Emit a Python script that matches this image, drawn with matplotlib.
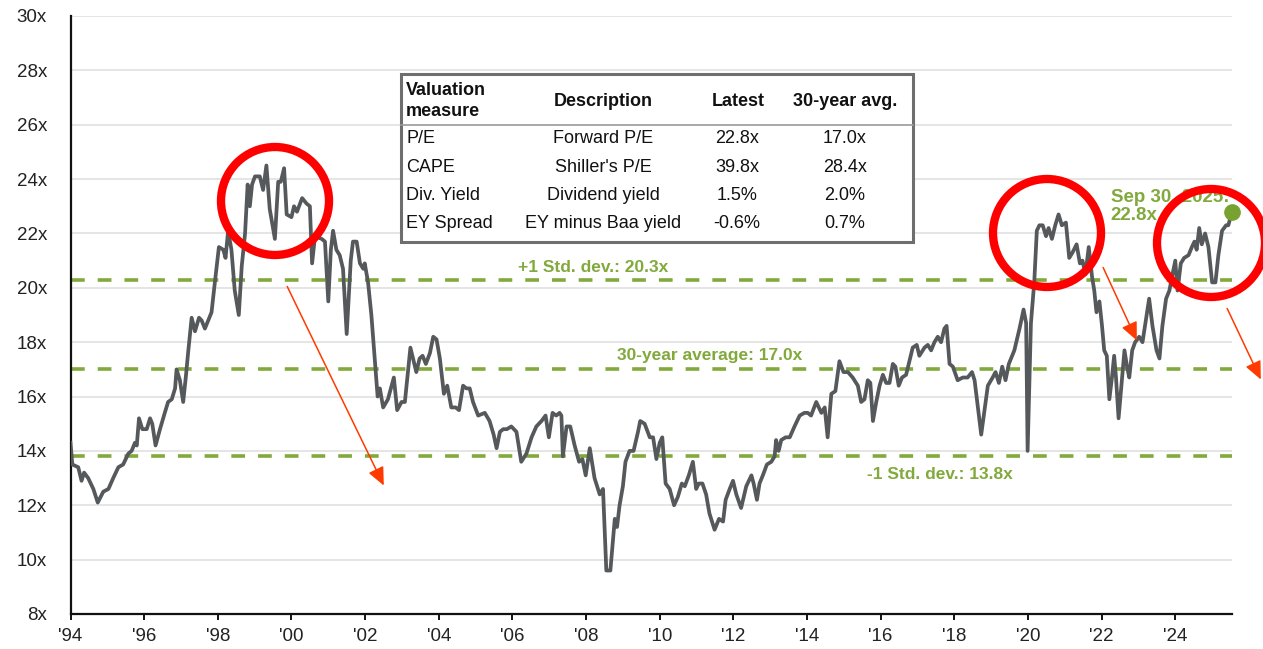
import matplotlib.pyplot as plt
from matplotlib.patches import Ellipse, Rectangle, FancyArrowPatch
from matplotlib.lines import Line2D

# S&P 500 forward P/E, decimal year positions
years = [
    1994.00, 1994.05, 1994.21, 1994.30, 1994.37, 1994.48, 1994.62, 1994.74, 1994.89, 1995.03,
    1995.16, 1995.30, 1995.43, 1995.57, 1995.66, 1995.75, 1995.80, 1995.86, 1995.95, 1996.07,
    1996.16, 1996.22, 1996.31, 1996.43, 1996.56, 1996.65, 1996.75, 1996.84, 1996.88, 1996.97,
    1997.06, 1997.13, 1997.20, 1997.29, 1997.38, 1997.49, 1997.56, 1997.65, 1997.74, 1997.83,
    1997.92, 1998.03, 1998.15, 1998.21, 1998.28, 1998.37, 1998.46, 1998.57, 1998.65, 1998.74,
    1998.81, 1998.87, 1998.93, 1999.01, 1999.14, 1999.23, 1999.32, 1999.41, 1999.55, 1999.64,
    1999.71, 1999.80, 1999.87, 2000.00, 2000.07, 2000.15, 2000.29, 2000.41, 2000.50, 2000.56,
    2000.64, 2000.82, 2000.91, 2001.00, 2001.07, 2001.13, 2001.22, 2001.31, 2001.40, 2001.50,
    2001.61, 2001.67, 2001.77, 2001.86, 2001.95, 2001.99, 2002.08, 2002.17, 2002.26, 2002.34,
    2002.40, 2002.49, 2002.62, 2002.78, 2002.87, 2002.99, 2003.08, 2003.23, 2003.30, 2003.39,
    2003.48, 2003.56, 2003.65, 2003.76, 2003.85, 2003.94, 2004.03, 2004.14, 2004.23, 2004.34,
    2004.46, 2004.55, 2004.66, 2004.75, 2004.84, 2004.93, 2005.07, 2005.25, 2005.38, 2005.49,
    2005.57, 2005.66, 2005.75, 2005.85, 2005.97, 2006.11, 2006.24, 2006.38, 2006.52, 2006.65,
    2006.79, 2006.90, 2006.99, 2007.09, 2007.19, 2007.28, 2007.33, 2007.37, 2007.47, 2007.57,
    2007.69, 2007.81, 2007.90, 2007.99, 2008.10, 2008.23, 2008.37, 2008.46, 2008.55, 2008.66,
    2008.78, 2008.84, 2008.91, 2009.00, 2009.07, 2009.18, 2009.29, 2009.41, 2009.47, 2009.59,
    2009.73, 2009.82, 2009.91, 2010.00, 2010.07, 2010.16, 2010.27, 2010.39, 2010.49, 2010.60,
    2010.68, 2010.79, 2010.90, 2010.99, 2011.06, 2011.16, 2011.26, 2011.35, 2011.49, 2011.61,
    2011.72, 2011.79, 2011.90, 2011.99, 2012.08, 2012.21, 2012.35, 2012.49, 2012.55, 2012.64,
    2012.71, 2012.80, 2012.91, 2013.03, 2013.12, 2013.16, 2013.23, 2013.30, 2013.42, 2013.53,
    2013.66, 2013.80, 2013.93, 2014.02, 2014.11, 2014.25, 2014.39, 2014.48, 2014.56, 2014.66,
    2014.77, 2014.88, 2014.99, 2015.11, 2015.24, 2015.38, 2015.47, 2015.56, 2015.65, 2015.72,
    2015.79, 2015.88, 2015.97, 2016.06, 2016.15, 2016.24, 2016.33, 2016.40, 2016.49, 2016.58,
    2016.69, 2016.78, 2016.87, 2016.98, 2017.05, 2017.19, 2017.28, 2017.37, 2017.46, 2017.55,
    2017.64, 2017.73, 2017.79, 2017.87, 2017.96, 2018.09, 2018.23, 2018.36, 2018.48, 2018.55,
    2018.64, 2018.73, 2018.82, 2018.91, 2019.04, 2019.12, 2019.21, 2019.30, 2019.39, 2019.48,
    2019.63, 2019.77, 2019.88, 2019.95, 2019.99, 2020.08, 2020.17, 2020.24, 2020.31, 2020.40,
    2020.49, 2020.56, 2020.65, 2020.74, 2020.83, 2020.92, 2021.03, 2021.12, 2021.21, 2021.32,
    2021.41, 2021.48, 2021.56, 2021.65, 2021.74, 2021.80, 2021.86, 2021.94, 2022.01, 2022.07,
    2022.14, 2022.21, 2022.28, 2022.34, 2022.39, 2022.46, 2022.53, 2022.62, 2022.69, 2022.75,
    2022.83, 2022.91, 2023.02, 2023.11, 2023.20, 2023.29, 2023.38, 2023.49, 2023.57, 2023.65,
    2023.75, 2023.84, 2023.91, 2024.00, 2024.06, 2024.15, 2024.24, 2024.36, 2024.45, 2024.52,
    2024.58, 2024.65, 2024.72, 2024.81, 2024.90, 2025.00, 2025.09, 2025.17, 2025.27, 2025.38,
    2025.44, 2025.54,
]
pe = [
    14.3, 13.5, 13.4, 12.9, 13.2, 13.0, 12.6, 12.1, 12.5, 12.6,
    13.0, 13.4, 13.5, 13.9, 14.0, 14.3, 14.2, 15.2, 14.8, 14.8,
    15.2, 15.0, 14.2, 14.8, 15.4, 15.8, 15.9, 16.3, 17.0, 16.6,
    15.8, 16.7, 17.7, 18.9, 18.4, 18.9, 18.8, 18.5, 18.8, 19.1,
    20.2, 21.5, 21.4, 21.1, 22.1, 21.4, 19.9, 19.0, 20.8, 22.0,
    23.8, 23.0, 23.8, 24.1, 24.1, 23.6, 24.5, 22.9, 21.8, 23.9,
    23.9, 24.4, 22.7, 22.6, 23.0, 22.8, 23.3, 23.1, 23.0, 20.9,
    21.9, 21.8, 21.7, 19.5, 21.4, 22.1, 21.4, 21.2, 20.7, 18.3,
    21.0, 21.7, 21.7, 20.9, 20.7, 20.9, 20.2, 19.0, 17.4, 16.0,
    16.3, 15.6, 15.9, 16.7, 15.5, 15.8, 15.8, 17.8, 17.4, 16.9,
    17.4, 17.5, 17.2, 17.6, 18.2, 18.1, 17.4, 16.1, 16.4, 15.6,
    15.6, 15.5, 16.4, 16.3, 16.3, 15.8, 15.3, 15.4, 15.1, 14.6,
    14.1, 14.7, 14.8, 14.8, 14.9, 14.7, 13.6, 13.9, 14.5, 14.9,
    15.1, 15.3, 14.5, 15.4, 15.3, 15.4, 15.3, 13.8, 14.9, 14.9,
    14.2, 13.6, 13.7, 13.1, 14.1, 13.0, 12.4, 12.6, 9.6, 9.6,
    11.5, 11.2, 12.0, 12.7, 13.6, 14.0, 14.0, 14.7, 15.1, 15.0,
    14.5, 14.5, 13.7, 14.3, 14.5, 12.8, 12.6, 12.0, 12.3, 12.8,
    12.7, 13.1, 13.6, 12.6, 12.8, 12.8, 12.4, 11.7, 11.1, 11.5,
    11.4, 12.2, 12.6, 12.9, 12.4, 11.9, 12.7, 13.1, 12.8, 12.2,
    12.8, 13.1, 13.5, 13.6, 13.8, 14.4, 14.0, 14.4, 14.5, 14.5,
    14.9, 15.3, 15.4, 15.4, 15.3, 15.8, 15.4, 15.6, 14.5, 16.1,
    16.2, 17.3, 16.9, 16.9, 16.7, 16.4, 15.8, 15.9, 16.6, 16.5,
    15.1, 15.8, 16.4, 16.8, 16.5, 16.5, 17.2, 17.1, 16.4, 16.7,
    16.8, 17.3, 17.8, 17.9, 17.5, 17.8, 17.9, 17.7, 18.0, 18.2,
    18.0, 18.5, 18.6, 17.2, 17.1, 16.6, 16.7, 16.7, 16.9, 16.6,
    15.6, 14.6, 15.5, 16.4, 16.7, 16.9, 16.5, 17.1, 16.6, 17.2,
    17.7, 18.5, 19.2, 18.7, 14.0, 18.7, 20.2, 22.1, 22.3, 22.3,
    21.9, 22.2, 21.8, 22.3, 22.7, 22.3, 22.4, 21.1, 21.3, 21.6,
    20.9, 21.0, 20.5, 21.5, 20.4, 19.9, 19.1, 19.5, 18.6, 17.7,
    17.5, 15.9, 16.7, 17.5, 16.7, 15.2, 16.3, 17.7, 17.1, 16.7,
    17.7, 18.0, 18.2, 18.0, 18.8, 19.6, 18.6, 17.7, 17.4, 18.6,
    19.6, 19.9, 20.4, 21.0, 19.9, 20.9, 21.1, 21.2, 21.5, 21.7,
    21.4, 22.2, 21.6, 22.0, 21.5, 20.2, 20.2, 21.2, 22.1, 22.3,
    22.3, 22.8,
]

avg_30y = 17.0
std_up = 20.3
std_down = 13.8
latest_label = 'Sep 30, 2025:\n22.8x'

table_header = ['Valuation\nmeasure', 'Description', 'Latest', '30-year avg.']
table_measure = ['P/E', 'CAPE', 'Div. Yield', 'EY Spread']
table_desc = ['Forward P/E', "Shiller's P/E", 'Dividend yield', 'EY minus Baa yield']
table_latest = ['22.8x', '39.8x', '1.5%', '-0.6%']
table_avg = ['17.0x', '28.4x', '2.0%', '0.7%']

W, H = 1263, 649
GREEN = '#82A93C'
LINE = '#55595C'
RED = '#FF0000'
ARROW = '#FF3A00'

plt.rcParams['font.family'] = ['Liberation Sans', 'DejaVu Sans']

fig = plt.figure(figsize=(W / 100, H / 100), dpi=100)
ax = fig.add_axes([70.5 / W, 35 / H, 1161.5 / W, 598 / H])

ax.set_xlim(1994, 2025.54)
ax.set_ylim(8, 30)
ax.set_yticks(range(8, 31, 2))
ax.set_yticklabels([f'{v}x' for v in range(8, 31, 2)])
ax.set_xticks(range(1994, 2025, 2))
ax.set_xticklabels([f"'{y % 100:02d}" for y in range(1994, 2025, 2)])
ax.grid(axis='y', color='#E3E3E3', lw=1.3)
ax.set_axisbelow(True)
for s in ['top', 'right']:
    ax.spines[s].set_visible(False)
for s in ['left', 'bottom']:
    ax.spines[s].set_color('#111111')
    ax.spines[s].set_linewidth(1.6)
ax.tick_params(axis='y', length=0, pad=17, labelsize=13.5, labelcolor='#222222')
ax.tick_params(axis='x', length=4, width=1.4, color='#111111', pad=6,
               labelsize=13.5, labelcolor='#222222')

for v in [std_up, avg_30y, std_down]:
    ax.axhline(v, color=GREEN, lw=2.6, dashes=(3.8, 3.6), zorder=2)

ax.plot(years, pe, color=LINE, lw=2.7, zorder=3, solid_joinstyle='round')
ax.plot(years[-1], pe[-1], 'o', color='#77A22F', ms=11, zorder=4, clip_on=False)

lbl = dict(color=GREEN, fontsize=12.5, fontweight='bold', ha='center', va='center')
ax.text(2008.18, 20.76, f'+1 Std. dev.: {std_up:.1f}x', **lbl)
ax.text(2011.35, 17.52, f'30-year average: {avg_30y:.1f}x', **lbl)
ax.text(2017.62, 13.15, f'-1 Std. dev.: {std_down:.1f}x', **lbl)
ax.text(2022.25, 23.0, latest_label, color=GREEN, fontsize=13.5, fontweight='bold',
        ha='left', va='center', linespacing=1.05)

# valuation table (figure pixel layout)
def fx(px):
    return px / W


def fy(py):
    return 1 - py / H


fig.add_artist(Rectangle((fx(401), fy(242)), fx(913) - fx(401), fy(74) - fy(242),
                         transform=fig.transFigure, facecolor='white',
                         edgecolor='#6E6E6E', lw=2.2, zorder=5))
fig.add_artist(Line2D([fx(401), fx(913)], [fy(125), fy(125)], transform=fig.transFigure,
                      color='#9A9A9A', lw=1.2, zorder=6))
hdr = dict(fontsize=13, fontweight='bold', color='#111111', va='center', zorder=7)
fig.text(fx(406), fy(101), table_header[0], ha='left', linespacing=1.3, **hdr)
fig.text(fx(603), fy(101), table_header[1], ha='center', **hdr)
fig.text(fx(738), fy(101), table_header[2], ha='center', **hdr)
fig.text(fx(845), fy(101), table_header[3], ha='center', **hdr)
row_y = [139, 168, 196, 224]
cell = dict(fontsize=13, color='#111111', va='center', zorder=7)
for i, py in enumerate(row_y):
    fig.text(fx(406), fy(py), table_measure[i], ha='left', **cell)
    fig.text(fx(603), fy(py), table_desc[i], ha='center', **cell)
    fig.text(fx(737), fy(py), table_latest[i], ha='center', **cell)
    fig.text(fx(845), fy(py), table_avg[i], ha='center', **cell)

# red highlight circles
for cx, cy, r in [(275, 201, 54), (1047, 233, 54), (1211, 243, 54)]:
    fig.add_artist(Ellipse((fx(cx), fy(cy)), 2 * r / W, 2 * r / H, transform=fig.transFigure,
                           fill=False, edgecolor=RED, lw=6, zorder=8))

# arrows
for (x0, y0), (x1, y1) in [((286, 284), (385, 488)), ((1102, 265), (1138, 343)),
                           ((1226, 306), (1262, 382))]:
    fig.add_artist(FancyArrowPatch((fx(x0), fy(y0)), (fx(x1), fy(y1)), transform=fig.transFigure,
                                   arrowstyle='-|>,head_length=11,head_width=5',
                                   mutation_scale=1, color=ARROW, lw=1.1, zorder=8))

fig.savefig('out.png', dpi=100, facecolor='white')
